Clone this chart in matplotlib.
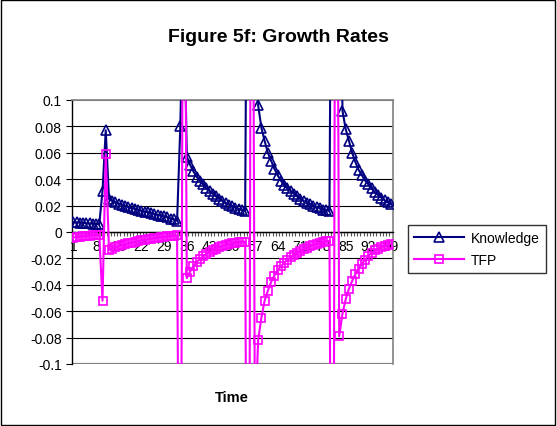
import matplotlib
matplotlib.use("Agg")
import matplotlib.pyplot as plt
from matplotlib.patches import Rectangle
from matplotlib.ticker import FixedLocator, FuncFormatter

plt.rcParams['font.family'] = ['Liberation Sans', 'DejaVu Sans']

periods = list(range(1, 100))

knowledge = [
    0.0075, 0.0073, 0.0071, 0.0069, 0.0067, 0.0065, 0.0063, 0.0061, 0.0059,
    0.031, 0.077,
    0.025, 0.0235, 0.0225, 0.0215, 0.0205, 0.0197, 0.019, 0.0182, 0.0175, 0.0168, 0.0161,
    0.0155, 0.0148, 0.0142, 0.0136, 0.013, 0.0124, 0.0118, 0.0112, 0.0102, 0.0095, 0.0085,
    0.080, 0.20,
    0.057, 0.051, 0.046, 0.042, 0.039, 0.036, 0.033, 0.031, 0.029, 0.027,
    0.025, 0.0235, 0.022, 0.0207, 0.0195, 0.0185, 0.0175, 0.0165, 0.016,
    0.45, 0.6, 0.45,
    0.096, 0.079, 0.069, 0.060, 0.054, 0.048, 0.043, 0.039, 0.0356, 0.033, 0.031, 0.029,
    0.027, 0.025, 0.0235, 0.022, 0.021, 0.020, 0.019, 0.018, 0.017, 0.0165, 0.016,
    0.45, 0.6, 0.45,
    0.092, 0.078, 0.069, 0.060, 0.053, 0.047, 0.043, 0.039, 0.036, 0.033,
    0.030, 0.028, 0.026, 0.024, 0.0225, 0.021,
]

tfp = [
    -0.0042, -0.0038, -0.0035, -0.0032, -0.0030, -0.0027, -0.0025, -0.0023, -0.0021,
    -0.052, 0.059,
    -0.0135, -0.0125, -0.0116, -0.0108, -0.0100, -0.0093, -0.0086, -0.0080, -0.0074, -0.0069, -0.0064,
    -0.0059, -0.0055, -0.0051, -0.0047, -0.0043, -0.0040, -0.0037, -0.0034, -0.0031, -0.0028, -0.0025,
    -0.4, 0.4,
    -0.035, -0.030, -0.026, -0.023, -0.0205, -0.0183, -0.0165, -0.0150, -0.0137, -0.0126,
    -0.0116, -0.0107, -0.0099, -0.0092, -0.0086, -0.0081, -0.0077, -0.0074, -0.0072,
    -0.5, 0.5, -0.15,
    -0.082, -0.065, -0.052, -0.0445, -0.038, -0.033, -0.029, -0.026, -0.0235, -0.021, -0.019, -0.0172,
    -0.0157, -0.0143, -0.013, -0.0118, -0.0108, -0.0099, -0.0091, -0.0084, -0.0077, -0.0071, -0.0066,
    -0.5, 0.5, -0.079,
    -0.062, -0.051, -0.043, -0.037, -0.032, -0.028, -0.024, -0.021, -0.018, -0.016,
    -0.014, -0.0128, -0.0115, -0.0104, -0.0095, -0.0088,
]

x_labels = list(range(1, 100, 7))
y_ticks = [-0.1, -0.08, -0.06, -0.04, -0.02, 0, 0.02, 0.04, 0.06, 0.08, 0.1]

fig = plt.figure(figsize=(5.57, 4.27), dpi=100)
ax = fig.add_axes([71.7 / 557, 62 / 427, 321 / 557, 264 / 427])

ax.plot(periods, knowledge, color='#000080', lw=1.5, marker='^', ms=6.5,
        mfc='none', mec='#000080', mew=1.2, label='Knowledge', zorder=3)
ax.plot(periods, tfp, color='#FF00FF', lw=1.5, marker='s', ms=5.2,
        mfc='none', mec='#FF00FF', mew=1.2, label='TFP', zorder=3)

ax.set_xlim(0.5, 99.5)
ax.set_ylim(-0.1, 0.1)

# y axis: Excel style labels and black gridlines, grey plot border
ax.yaxis.set_major_locator(FixedLocator(y_ticks))
ax.yaxis.set_major_formatter(FuncFormatter(lambda v, p: '%g' % round(v, 3)))
ax.tick_params(axis='y', direction='out', length=4, width=0.8, labelsize=10, pad=3)
ax.yaxis.grid(True, color='black', lw=0.8)
gl = ax.get_ygridlines()
gl[0].set_color('#808080')
gl[-1].set_color('#808080')

# category axis sits on the zero line
ax.spines['bottom'].set_position(('data', 0))
ax.spines['bottom'].set_linewidth(1.0)
ax.spines['left'].set_linewidth(1.0)
for s in ('top', 'right'):
    ax.spines[s].set_color('#808080')
    ax.spines[s].set_linewidth(1.2)
ax.axhline(-0.1, color='#808080', lw=1.6, zorder=2)

ax.xaxis.set_major_locator(FixedLocator(x_labels))
ax.xaxis.set_minor_locator(FixedLocator([p + 0.5 for p in periods[:-1]]))
ax.tick_params(axis='x', which='major', length=0, labelsize=10, pad=5)
ax.tick_params(axis='x', which='minor', direction='out', length=3, width=0.8, color='#555555')
ax.set_axisbelow(True)

ax.set_xlabel('Time', fontsize=10.5, fontweight='bold', labelpad=0)
ax.xaxis.set_label_coords(0.5, -0.1)

fig.text(0.5, 1 - 37 / 427, 'Figure 5f: Growth Rates', ha='center', va='center',
         fontsize=14, fontweight='bold')

leg = fig.legend(loc='center left', bbox_to_anchor=(408 / 557, 1 - 250 / 427),
                 fontsize=10, frameon=True, fancybox=False, edgecolor='black',
                 handlelength=3.6, borderpad=0.45, labelspacing=0.6, handletextpad=0.5,
                 borderaxespad=0)
leg.get_frame().set_linewidth(1.0)

fig.patches.append(Rectangle((0.002, 0.002), 0.995, 0.995, transform=fig.transFigure,
                             fill=False, edgecolor='black', lw=1.0))

fig.savefig('out.png', dpi=100)
